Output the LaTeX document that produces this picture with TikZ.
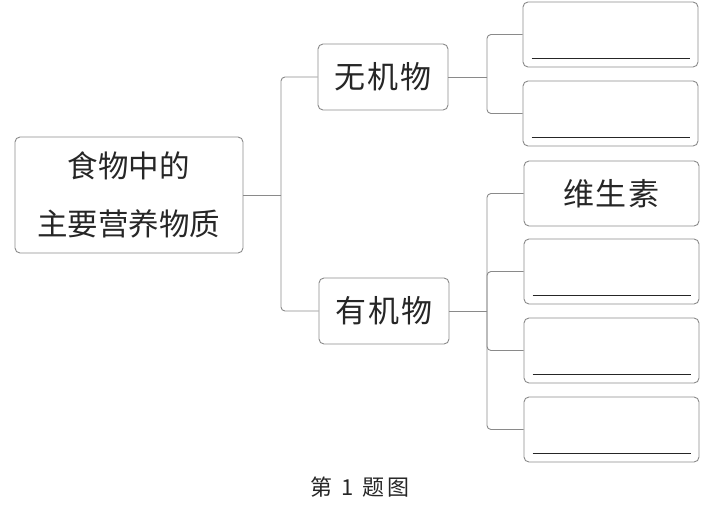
\documentclass[tikz,border=0pt]{standalone}
\usepackage{fontspec}
\newfontfamily\cjk{Noto Sans CJK SC}
\newfontfamily\cjkwide[LetterSpace=6]{Noto Sans CJK SC}
\usetikzlibrary{calc}
\definecolor{edge}{HTML}{8A8A8A}
\definecolor{ink}{HTML}{262626}
\tikzset{
  box/.style={draw=edge, line width=0.9pt, rounded corners=5pt, inner sep=0pt, align=center, text=ink, font=\cjk\fontsize{31}{58}\selectfont},
  leaf/.style={box, minimum width=175pt, minimum height=65pt},
  conn/.style={draw=edge, line width=0.9pt, rounded corners=4pt},
  blank/.style={draw=ink, line width=1.3pt}
}
\begin{document}
\begin{tikzpicture}[x=1pt,y=-1pt]
\useasboundingbox (0,0) rectangle (710,507);
\node[box, minimum width=228pt, minimum height=116pt, font=\cjk\fontsize{30.5}{58}\selectfont] (root) at (129,195) {食物中的\\主要营养物质};
\node[box, minimum width=130pt, minimum height=66pt, font=\cjkwide\fontsize{31}{58}\selectfont] (wj) at (383,77) {无机物};
\node[box, minimum width=130pt, minimum height=66pt, font=\cjkwide\fontsize{31}{58}\selectfont] (yj) at (384,311) {有机物};
\node[leaf] (b1) at (610.5,34.5) {};
\node[leaf] (b2) at (610.5,113.5) {};
\node[leaf, font=\cjkwide\fontsize{31}{58}\selectfont] (c1) at (611.5,193.5) {维生素};
\node[leaf] (c2) at (611.5,271.5) {};
\node[leaf] (c3) at (611.5,350.5) {};
\node[leaf] (c4) at (611.5,429.5) {};
\coordinate (t) at (281,195);
\coordinate (u) at (487,77);
\coordinate (v) at (487,311);
\draw[conn] (root.east) -- (t);
\draw[conn] (wj.west) -| (t);
\draw[conn] (yj.west) -| (t);
\draw[conn] (wj.east) -- (u);
\draw[conn] (b1.west) -| (u);
\draw[conn] (b2.west) -| (u);
\draw[conn] (yj.east) -- (v);
\draw[conn] (c1.west) -| (v);
\draw[conn] (c2.west) -| (v);
\draw[conn] (c3.west) -| (v);
\draw[conn] (c4.west) -| (v);
\foreach \b in {b1,b2,c2,c3,c4}{
  \draw[blank] ($(\b.south west)+(9,-9)$) -- ($(\b.south east)+(-8,-9)$);
}
\node[text=ink, font=\cjk\fontsize{22}{24}\selectfont] (cap) at (360,487) {第\hspace{9pt}1\hspace{9pt}题\hspace{3pt}图};
\end{tikzpicture}
\end{document}
